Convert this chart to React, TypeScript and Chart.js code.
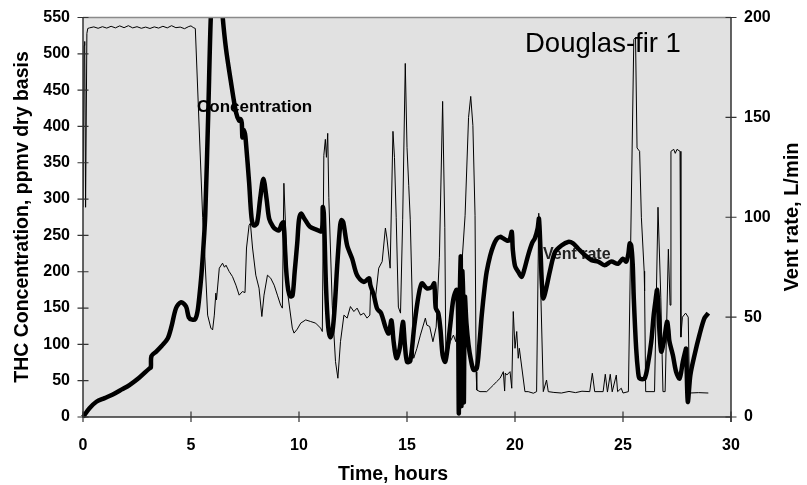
import { useEffect, useRef } from 'react';
import { Chart, registerables } from 'chart.js';

Chart.register(...registerables);

const FONT = '"Liberation Sans", Arial, Helvetica, sans-serif';

// ---- Data ----
const concHours = [
  0, 0.3, 0.62, 1.0, 1.38, 1.8, 2.15, 2.6, 3.08, 3.14, 3.17, 3.39, 3.65, 3.92, 4.1, 4.31, 4.54, 4.77, 4.9, 5.05,
  5.2, 5.3, 5.38, 5.48, 5.57, 5.66, 5.8, 5.92, 6.05, 6.2, 6.35, 6.46, 6.62, 6.85, 7.08, 7.23, 7.3, 7.35, 7.38, 7.43,
  7.5, 7.54, 7.69, 7.8, 7.9, 8.05, 8.2, 8.35, 8.5, 8.62, 8.8, 8.95, 9.08, 9.2, 9.28, 9.4, 9.5, 9.6, 9.7, 9.8,
  9.92, 10.0, 10.1, 10.23, 10.5, 10.8, 11.05, 11.1, 11.15, 11.25, 11.35, 11.45, 11.55, 11.65, 11.77, 11.9, 11.97, 12.05, 12.23, 12.46,
  12.69, 13.0, 13.2, 13.25, 13.31, 13.46, 13.62, 13.8, 14.0, 14.15, 14.28, 14.38, 14.51, 14.66, 14.81, 14.9, 15.0, 15.15, 15.34, 15.54,
  15.69, 15.92, 16.15, 16.26, 16.33, 16.45, 16.55, 16.65, 16.77, 16.9, 17.0, 17.15, 17.3, 17.36, 17.4, 17.45, 17.49, 17.52, 17.56, 17.6,
  17.63, 17.68, 17.75, 17.85, 17.95, 18.08, 18.23, 18.35, 18.46, 18.6, 18.69, 18.85, 19.0, 19.15, 19.31, 19.45, 19.62, 19.75, 19.85, 19.9,
  20.0, 20.15, 20.31, 20.45, 20.61, 20.8, 20.92, 21.05, 21.11, 21.18, 21.25, 21.31, 21.46, 21.61, 21.85, 22.15, 22.46, 22.69, 22.92, 23.23,
  23.54, 23.85, 24.15, 24.46, 24.77, 25.0, 25.15, 25.25, 25.31, 25.38, 25.45, 25.5, 25.61, 25.7, 25.77, 26.0, 26.15, 26.31, 26.42, 26.5,
  26.58, 26.64, 26.69, 26.77, 26.89, 27.04, 27.1, 27.15, 27.31, 27.46, 27.62, 27.77, 27.88, 27.92, 28.0, 28.12, 28.31, 28.54, 28.77, 28.95,
];
const concPpmv = [
  0, 12, 21, 26, 31, 38, 44, 54, 67, 68, 84, 90, 98, 108, 125, 150, 158, 152, 137, 134,
  135, 145, 164, 195, 232, 278, 420, 553, 610, 630, 600, 553, 507, 461, 420, 408, 410, 405, 385, 395,
  390, 379, 323, 275, 264, 266, 300, 328, 300, 273, 262, 258, 257, 266, 268, 205, 175, 166, 167, 200,
  240, 272, 280, 274, 262, 258, 256, 289, 280, 180, 125, 110, 118, 150, 209, 262, 271, 268, 236, 218,
  195, 186, 190, 191, 181, 168, 149, 143, 124, 115, 133, 104, 81, 94, 131, 100, 76, 77, 126, 168,
  184, 177, 179, 184, 150, 143, 120, 85, 76, 100, 126, 163, 175, 150, 5, 175, 220, 15, 200, 168,
  20, 165, 130, 99, 80, 65, 67, 100, 140, 180, 200, 222, 236, 245, 248, 246, 243, 244, 255, 230,
  208, 200, 193, 205, 223, 240, 246, 260, 273, 230, 180, 163, 179, 200, 227, 236, 241, 239, 232, 223,
  216, 214, 209, 214, 211, 218, 214, 225, 239, 236, 210, 163, 94, 62, 53, 53, 72, 104, 140, 159,
  175, 150, 117, 90, 104, 131, 120, 104, 85, 62, 53, 76, 90, 94, 21, 58, 85, 113, 136, 143,
];

const ventHours = [
  0, 0.05, 0.08, 0.12, 0.18, 0.22, 0.3, 0.5, 0.7, 0.9, 1.1, 1.3, 1.5, 1.7, 1.9, 2.1, 2.3, 2.5, 2.7, 2.9,
  3.1, 3.3, 3.5, 3.7, 3.9, 4.1, 4.3, 4.5, 4.7, 4.9, 5.0, 5.1, 5.2, 5.54, 5.62, 5.77, 5.92, 6.0, 6.08, 6.15,
  6.18, 6.31, 6.46, 6.55, 6.62, 6.77, 6.92, 7.08, 7.23, 7.38, 7.5, 7.57, 7.69, 7.75, 7.85, 8.0, 8.15, 8.28, 8.38, 8.54,
  8.69, 8.85, 9.0, 9.15, 9.23, 9.3, 9.38, 9.5, 9.69, 9.77, 9.92, 10.08, 10.31, 10.54, 10.77, 11.0, 11.08, 11.15, 11.22, 11.27,
  11.33, 11.38, 11.54, 11.69, 11.8, 11.92, 12.08, 12.23, 12.38, 12.54, 12.69, 12.85, 13.0, 13.15, 13.28, 13.31, 13.54, 13.69, 13.85, 14.0,
  14.07, 14.22, 14.35, 14.42, 14.5, 14.6, 14.7, 14.8, 14.92, 15.0, 15.08, 15.15, 15.31, 15.46, 15.62, 15.85, 15.92, 16.05, 16.2, 16.35,
  16.5, 16.65, 16.75, 16.8, 17.0, 17.15, 17.26, 17.5, 17.69, 17.85, 17.95, 18.05, 18.15, 18.2, 18.23, 18.38, 18.69, 18.85, 19.0, 19.15,
  19.31, 19.46, 19.52, 19.55, 19.62, 19.77, 19.85, 19.92, 20.0, 20.08, 20.15, 20.2, 20.46, 20.61, 20.85, 21.0, 21.1, 21.2, 21.31, 21.46,
  21.54, 21.8, 22.15, 22.5, 22.8, 23.1, 23.46, 23.58, 23.69, 24.08, 24.18, 24.28, 24.41, 24.5, 24.69, 24.75, 24.92, 25.0, 25.25, 25.5,
  25.58, 25.65, 25.77, 25.85, 25.98, 26.0, 26.05, 26.46, 26.62, 26.75, 26.85, 26.95, 27.1, 27.18, 27.22, 27.35, 27.42, 27.5, 27.64, 27.68,
  27.75, 27.9, 28.02, 28.08, 28.5, 28.95,
];
const ventLpm = [
  105, 186, 188, 105, 192, 194.5, 194.8, 195.3, 194.6, 195.4, 194.7, 195.6, 194.8, 195.8, 194.9, 195.9, 194.8, 195.4, 194.6, 195.2,
  194.5, 195.3, 194.7, 195.6, 194.8, 195.9, 194.9, 195.2, 194.4, 195.5, 195.8, 195.0, 194.5, 100, 85, 51, 44.5, 43.6, 51, 62,
  58.6, 74.5, 77, 75, 76, 72.8, 70.3, 66, 61, 62.8, 62.3, 84.6, 96, 97, 84.6, 71, 64.5, 50.3, 61, 71,
  69.5, 66, 61, 56, 54.5, 117, 95, 60, 44.5, 42, 44, 47, 48.6, 47.8, 47, 44.5, 42.8, 131, 139, 130,
  142, 110, 56, 27.7, 19.4, 37.7, 51, 49.5, 55.3, 52.8, 54.5, 51, 52, 49.5, 51, 62.8, 59.5, 74.5, 77.8, 94.6,
  89.6, 74.5, 143, 130, 100, 55, 52, 99, 177, 135, 116, 99, 29.4, 34.4, 41, 49.5, 46, 45.3, 37.7, 45,
  80, 158, 95, 28, 37.7, 41, 37.7, 70, 101, 150, 160.5, 146, 101, 22.7, 13.5, 12.7, 12.7, 14.4, 16, 17.7,
  19.4, 22.7, 13, 22, 21, 22.7, 14.4, 52.8, 34.4, 42.8, 29.4, 34.4, 12.7, 12.7, 11.9, 12.7, 102, 60, 12.7, 18.5,
  12.7, 12.3, 12, 12.8, 12.2, 12.9, 12.7, 21.9, 12.7, 12.7, 21.4, 12.5, 21.4, 12.6, 21, 12.7, 14.4, 12, 12.7, 189,
  190, 134.7, 133, 100, 73, 63, 12.7, 12.7, 105, 60, 12.7, 12.7, 84, 56, 133, 134, 132, 134, 133, 40,
  50, 52, 50, 12, 12.2, 12,
];

const xMin = 0;
const xMax = 30;
const xStep = 5;
const leftMax = 550;
const leftStep = 50;
const rightMax = 200;
const rightStep = 50;

const chartTitle = 'Douglas-fir 1';
const xTitle = 'Time, hours';
const yTitle = 'THC Concentration, ppmv dry basis';
const y1Title = 'Vent rate, L/min';
const concLabel = 'Concentration';
const ventLabel = 'Vent rate';

const decorPlugin = {
  id: 'decor',
  beforeDraw(chart: any) {
    const { ctx, chartArea: a } = chart;
    ctx.save();
    ctx.fillStyle = '#e1e1e1';
    ctx.fillRect(a.left, a.top, a.right - a.left, a.bottom - a.top);
    ctx.restore();
  },
  beforeDatasetsDraw(chart: any) {
    const { ctx } = chart;
    ctx.save();
    ctx.fillStyle = '#000';
    ctx.textBaseline = 'alphabetic';
    ctx.textAlign = 'left';
    ctx.font = `bold 17px ${FONT}`;
    ctx.fillText(concLabel, 197, 112);
    ctx.fillStyle = '#222';
    ctx.font = `bold 16px ${FONT}`;
    ctx.fillText(ventLabel, 543, 259);
    ctx.fillStyle = '#000';
    ctx.font = `27.5px ${FONT}`;
    ctx.fillText(chartTitle, 525, 52);
    ctx.restore();
  },
  afterDatasetsDraw(chart: any) {
    const { ctx, chartArea: a, scales } = chart;
    ctx.save();
    // top border
    ctx.strokeStyle = '#8a8a8a';
    ctx.lineWidth = 1.5;
    ctx.beginPath();
    ctx.moveTo(a.left, a.top);
    ctx.lineTo(a.right, a.top);
    ctx.stroke();
    // axes
    ctx.strokeStyle = '#333';
    ctx.lineWidth = 1.5;
    ctx.beginPath();
    ctx.moveTo(a.left, a.top);
    ctx.lineTo(a.left, a.bottom);
    ctx.lineTo(a.right, a.bottom);
    ctx.moveTo(a.right, a.top);
    ctx.lineTo(a.right, a.bottom + 5);
    ctx.stroke();
    ctx.lineWidth = 1.2;
    ctx.beginPath();
    scales.y.ticks.forEach((t: any) => {
      const py = scales.y.getPixelForValue(t.value);
      ctx.moveTo(a.left - 5.5, py);
      ctx.lineTo(a.left + 5.5, py);
    });
    scales.y1.ticks.forEach((t: any) => {
      const py = scales.y1.getPixelForValue(t.value);
      ctx.moveTo(a.right - 5.5, py);
      ctx.lineTo(a.right + 5.5, py);
    });
    scales.x.ticks.forEach((t: any) => {
      const px = scales.x.getPixelForValue(t.value);
      ctx.moveTo(px, a.bottom - 5.5);
      ctx.lineTo(px, a.bottom + 5);
    });
    ctx.stroke();
    // axis titles
    ctx.fillStyle = '#000';
    ctx.textAlign = 'center';
    ctx.textBaseline = 'alphabetic';
    ctx.font = `bold 19.5px ${FONT}`;
    ctx.fillText(xTitle, 393, 480);
    ctx.save();
    ctx.translate(27.5, 217);
    ctx.rotate(-Math.PI / 2);
    ctx.fillText(yTitle, 0, 0);
    ctx.restore();
    ctx.save();
    ctx.font = `bold 20px ${FONT}`;
    ctx.translate(798, 217);
    ctx.rotate(-Math.PI / 2);
    ctx.fillText(y1Title, 0, 0);
    ctx.restore();
    ctx.restore();
  },
};

const zeroPad = (s: any) => {
  s.paddingTop = 0;
  s.paddingBottom = 0;
  s.paddingLeft = 0;
  s.paddingRight = 0;
};

export default function App() {
  const ref = useRef<HTMLCanvasElement | null>(null);
  useEffect(() => {
    if (!ref.current) return;
    const tickFont = { family: FONT, size: 16, weight: 'bold' as const };
    const chart = new Chart(ref.current, {
      type: 'line',
      data: {
        datasets: [
          {
            label: concLabel,
            data: concHours.map((h, i) => ({ x: h, y: concPpmv[i] })),
            yAxisID: 'y',
            borderColor: '#000',
            borderWidth: 4.5,
            pointRadius: 0,
            tension: 0.3,
            fill: false,
            clip: { left: 5, right: 5, top: 0, bottom: 5 },
          },
          {
            label: ventLabel,
            data: ventHours.map((h, i) => ({ x: h, y: ventLpm[i] })),
            yAxisID: 'y1',
            borderColor: '#000',
            borderWidth: 1,
            pointRadius: 0,
            tension: 0,
            fill: false,
          },
        ],
      },
      options: {
        animation: false,
        responsive: false,
        devicePixelRatio: 1,
        layout: { padding: { top: 17.5, left: 0, right: 0, bottom: 0 } },
        plugins: { legend: { display: false }, tooltip: { enabled: false } },
        scales: {
          x: {
            type: 'linear',
            min: xMin,
            max: xMax,
            grid: { display: false, drawTicks: false },
            border: { display: false },
            ticks: { stepSize: xStep, font: tickFont, color: '#000', padding: 19, maxRotation: 0 },
            afterFit: (s: any) => {
              s.height = 68;
              zeroPad(s);
            },
          },
          y: {
            type: 'linear',
            position: 'left',
            min: 0,
            max: leftMax,
            grid: { display: false, drawTicks: false },
            border: { display: false },
            ticks: { stepSize: leftStep, font: tickFont, color: '#000', padding: 13 },
            afterFit: (s: any) => {
              s.width = 83;
              zeroPad(s);
            },
          },
          y1: {
            type: 'linear',
            position: 'right',
            min: 0,
            max: rightMax,
            grid: { display: false, drawTicks: false },
            border: { display: false },
            ticks: { stepSize: rightStep, font: tickFont, color: '#000', padding: 13 },
            afterFit: (s: any) => {
              s.width = 76;
              zeroPad(s);
            },
          },
        },
      },
      plugins: [decorPlugin],
    });
    return () => chart.destroy();
  }, []);
  return (
    <div style={{ position: 'absolute', left: 0, top: 0, width: 807, height: 485 }}>
      <canvas ref={ref} width={807} height={485} style={{ width: 807, height: 485 }} />
    </div>
  );
}
